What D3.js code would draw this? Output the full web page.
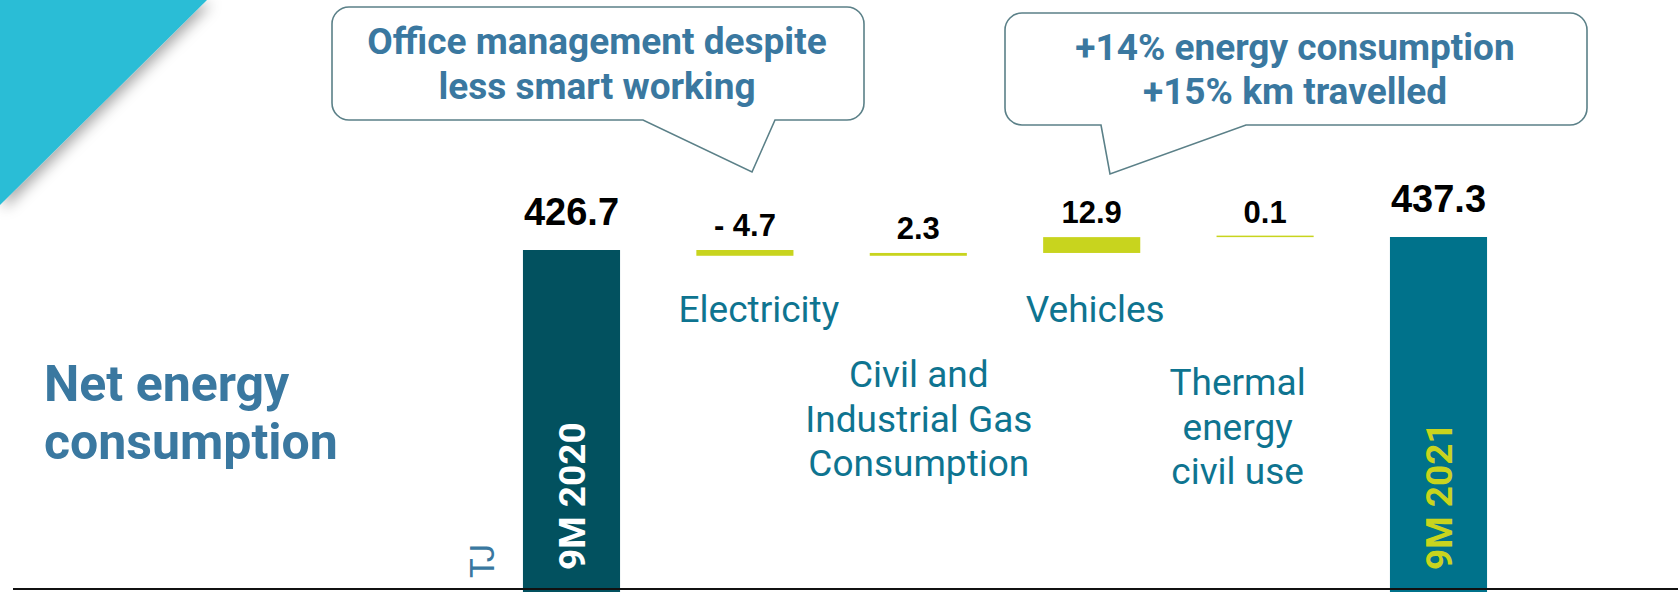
<!DOCTYPE html>
<html>
<head>
<meta charset="utf-8">
<script src="https://cdn.jsdelivr.net/npm/d3@7/dist/d3.min.js"></script>
<style>
  html, body { margin: 0; padding: 0; background: #fff; }
  svg { display: block; }
</style>
</head>
<body>
<script>
// ---------------- DATA ----------------
const categories = ["9M 2020", "Electricity", "Civil and Industrial Gas Consumption", "Vehicles", "Thermal energy civil use", "9M 2021"];
const values = [426.7, -4.7, 2.3, 12.9, 0.1, 437.3];
const kinds = ["total", "delta", "delta", "delta", "delta", "total"];
const valueLabels = ["426.7", "- 4.7", "2.3", "12.9", "0.1", "437.3"];
const categoryLabelLines = [
  [],
  ["Electricity"],
  ["Civil and", "Industrial Gas", "Consumption"],
  ["Vehicles"],
  ["Thermal", "energy", "civil use"],
  []
];
const titleLines = ["Net energy", "consumption"];
const unitLabel = "TJ";
const callout1Lines = ["Office management despite", "less smart working"];
const callout2Lines = ["+14% energy consumption", "+15% km travelled"];

// ---------------- LAYOUT / STYLE ----------------
const W = 1678, H = 592;
const colors = {
  total0: "#02515f", total1: "#00728b", delta: "#c8d41e",
  cat: "#0e7490", title: "#3a78a0", corner: "#2bbdd6",
  calloutStroke: "#5b8088", value: "#000"
};
const catLayout = [
  null,
  { dx: 14, y: 322 },
  { dx: 0.5, y: 387 },
  { dx: 3.5, y: 322 },
  { dx: -27.5, y: 395 },
  null
];
const catLineH = 44.5;

const svg = d3.select("body").append("svg").attr("width", W).attr("height", H);
const defs = svg.append("defs");
const f = defs.append("filter").attr("id", "shadow").attr("x", "-50%").attr("y", "-50%").attr("width", "200%").attr("height", "200%");
f.append("feDropShadow").attr("dx", 4).attr("dy", 4).attr("stdDeviation", 7)
  .attr("flood-color", "#000").attr("flood-opacity", 0.35);

// corner triangle
svg.append("path")
  .attr("d", "M0,0 L207,0 L0,205 Z")
  .attr("fill", colors.corner)
  .attr("filter", "url(#shadow)");

// scales
const x = d3.scaleBand().domain(categories).range([484.8, 1525.2]).paddingInner(0.44).paddingOuter(0.22);
const y = d3.scaleLinear().domain([148, 437.3]).range([592, 237]);

// waterfall computation
let running = 0;
const bars = categories.map((c, i) => {
  let lo, hi;
  if (kinds[i] === "total") { lo = y.domain()[0]; hi = values[i]; running = values[i]; }
  else { const start = running; running = start + values[i]; lo = Math.min(start, running); hi = Math.max(start, running); }
  return { cat: c, i, lo, hi, kind: kinds[i] };
});

const g = svg.append("g");
g.selectAll("rect.bar").data(bars).join("rect")
  .attr("class", "bar")
  .attr("x", d => x(d.cat))
  .attr("width", x.bandwidth())
  .attr("y", d => {
    const h = Math.max(1.5, y(d.lo) - y(d.hi));
    return y(d.lo) - h;
  })
  .attr("height", d => Math.max(1.5, y(d.lo) - y(d.hi)))
  .attr("fill", d => d.kind === "total" ? (d.i === 0 ? colors.total0 : colors.total1) : colors.delta);

// baseline
svg.append("line").attr("x1", 13).attr("x2", W).attr("y1", 589).attr("y2", 589)
  .attr("stroke", "#111").attr("stroke-width", 2);

// value labels
g.selectAll("text.val").data(bars).join("text")
  .attr("class", "val")
  .attr("x", d => x(d.cat) + x.bandwidth() / 2)
  .attr("y", d => y(d.hi) - (d.kind === "total" ? 25.5 : 14))
  .attr("text-anchor", "middle")
  .attr("font-family", "'Liberation Sans', Arial, sans-serif")
  .attr("font-weight", "bold")
  .attr("font-size", d => d.kind === "total" ? 38 : 31)
  .attr("fill", colors.value)
  .text(d => valueLabels[d.i]);

// vertical labels inside total bars
bars.filter(d => d.kind === "total").forEach(d => {
  const cx = x(d.cat) + x.bandwidth() / 2;
  svg.append("text")
    .attr("transform", `translate(${cx + 13},570) rotate(-90)`)
    .attr("text-anchor", "start")
    .attr("font-family", "Roboto, sans-serif")
    .attr("font-weight", "bold")
    .attr("font-size", 37)
    .attr("fill", d.i === 0 ? "#ffffff" : colors.delta)
    .text(d.cat);
});

// category labels
bars.forEach(d => {
  const lines = categoryLabelLines[d.i];
  const lay = catLayout[d.i];
  if (!lines.length) return;
  const t = svg.append("text")
    .attr("text-anchor", "middle")
    .attr("font-family", "Roboto, sans-serif")
    .attr("font-size", 37)
    .attr("fill", colors.cat);
  lines.forEach((ln, k) => {
    t.append("tspan")
      .attr("x", x(d.cat) + x.bandwidth() / 2 + lay.dx)
      .attr("y", lay.y + k * catLineH)
      .text(ln);
  });
});

// unit label
svg.append("text")
  .attr("transform", "translate(494,578) rotate(-90)")
  .attr("font-family", "Roboto, sans-serif")
  .attr("font-size", 33)
  .attr("fill", colors.title)
  .text(unitLabel);

// title
const tt = svg.append("text")
  .attr("font-family", "Roboto, sans-serif")
  .attr("font-weight", "bold")
  .attr("font-size", 50)
  .attr("fill", colors.title);
titleLines.forEach((ln, k) => tt.append("tspan").attr("x", 44).attr("y", 401 + k * 58).text(ln));

// callouts
function calloutPath(x0, y0, x1, y1, r, tl, tr, tipX, tipY) {
  const p = d3.path();
  p.moveTo(x0 + r, y0);
  p.lineTo(x1 - r, y0);
  p.arcTo(x1, y0, x1, y0 + r, r);
  p.lineTo(x1, y1 - r);
  p.arcTo(x1, y1, x1 - r, y1, r);
  p.lineTo(tr, y1);
  p.lineTo(tipX, tipY);
  p.lineTo(tl, y1);
  p.lineTo(x0 + r, y1);
  p.arcTo(x0, y1, x0, y1 - r, r);
  p.lineTo(x0, y0 + r);
  p.arcTo(x0, y0, x0 + r, y0, r);
  p.closePath();
  return p.toString();
}
function callout(box, lines, cx, base0, lh) {
  svg.append("path")
    .attr("d", calloutPath(...box))
    .attr("fill", "#fff")
    .attr("stroke", colors.calloutStroke)
    .attr("stroke-width", 1.6);
  const t = svg.append("text")
    .attr("text-anchor", "middle")
    .attr("font-family", "Roboto, sans-serif")
    .attr("font-weight", "bold")
    .attr("font-size", 37)
    .attr("fill", colors.title);
  lines.forEach((ln, k) => t.append("tspan").attr("x", cx).attr("y", base0 + k * lh).text(ln));
}
callout([332, 7, 864, 120, 17, 643, 775, 752, 172], callout1Lines, 597, 53.5, 45);
callout([1005, 13, 1587, 125, 17, 1101, 1246, 1110, 174], callout2Lines, 1295, 60, 43.5);
</script>
</body>
</html>
